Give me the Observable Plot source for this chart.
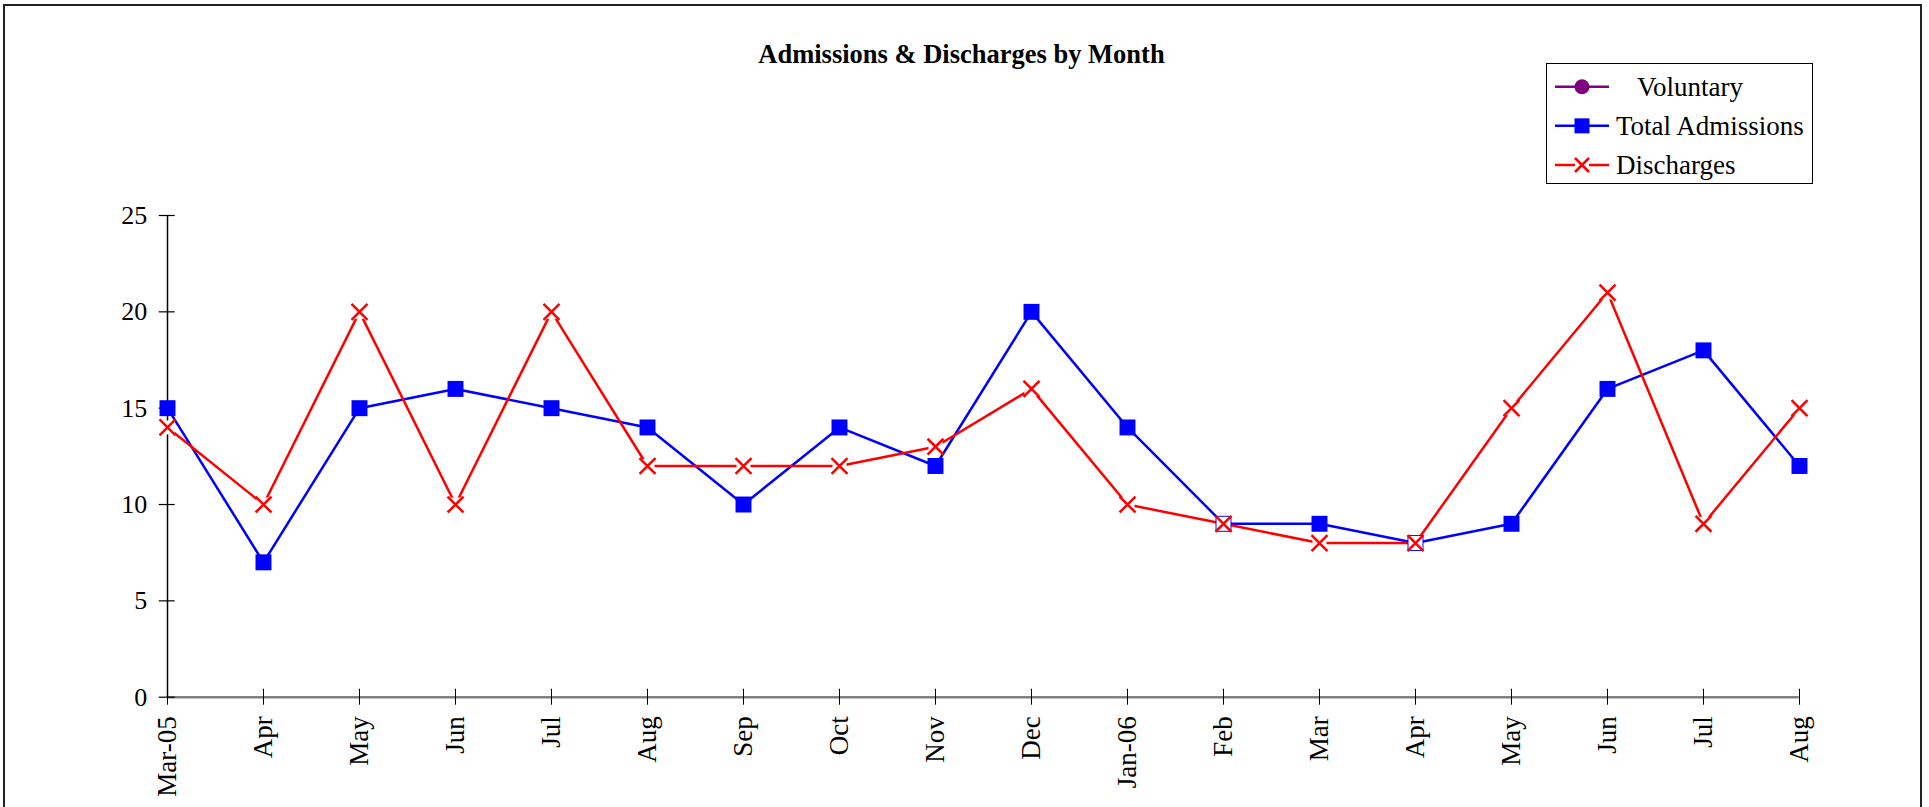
<!DOCTYPE html>
<html>
<head>
<meta charset="utf-8">
<script src="https://cdn.jsdelivr.net/npm/d3@7"></script>
<script src="https://cdn.jsdelivr.net/npm/@observablehq/plot@0.6"></script>
<style>
  html, body { margin: 0; padding: 0; background: #fff; }
  #wrap { position: relative; width: 1929px; height: 807px; overflow: hidden; background: #fff; }
  #wrap > svg { position: absolute; left: 0; top: 0; }
  #overlay { pointer-events: none; }
</style>
</head>
<body>
<div id="wrap"></div>
<script>
// ---- data ----
const months = ["Mar-05","Apr","May","Jun","Jul","Aug","Sep","Oct","Nov","Dec","Jan-06","Feb","Mar","Apr","May","Jun","Jul","Aug"];
const totalAdmissions = [15, 7, 15, 16, 15, 14, 10, 14, 12, 20, 14, 9, 9, 8, 9, 16, 18, 12];
const discharges = [14, 10, 20, 10, 20, 12, 12, 12, 13, 16, 10, 9, 8, 8, 15, 21, 9, 15];
const voluntary = []; // listed in legend, no plotted values
const yTicks = [0, 5, 10, 15, 20, 25];
const titleText = "Admissions & Discharges by Month";
const seriesNames = ["Voluntary", "Total Admissions", "Discharges"];

const idx = months.map((_, i) => i);
const admRows = totalAdmissions.map((v, i) => ({i, v}));
const disRows = discharges.map((v, i) => ({i, v}));
const volRows = voluntary.map((v, i) => ({i, v}));

const FONT = "'Liberation Serif', 'Times New Roman', serif";
const BLUE = "#0000ff", RED = "#ff0000", PURPLE = "#800080";

const chart = Plot.plot({
  width: 1929,
  height: 807,
  marginLeft: 166.7,
  marginRight: 130.3,
  marginTop: 215,
  marginBottom: 110.3,
  style: {fontFamily: FONT, background: "transparent", color: "#000", overflow: "visible"},
  x: {type: "point", domain: idx, padding: 0, label: null},
  y: {domain: [0, 25], label: null},
  marks: [
    Plot.ruleY([0], {stroke: "#808080", strokeWidth: 2.5}),
    Plot.ruleX([0], {stroke: "#000", strokeWidth: 1.5}),
    Plot.axisY({ticks: yTicks, tickSize: 16, dx: 8, tickPadding: 12, fontSize: 26, label: null, stroke: "#000", strokeWidth: 1.2}),
    Plot.axisX({ticks: idx, tickFormat: i => months[i], tickSize: 16, dy: -8, tickPadding: 11, tickRotate: -90, fontSize: 27, label: null, stroke: "#000", strokeWidth: 1}),
    Plot.line(volRows, {x: "i", y: "v", stroke: PURPLE, strokeWidth: 2.5}),
    Plot.line(admRows, {x: "i", y: "v", stroke: BLUE, strokeWidth: 2.5}),
    Plot.line(disRows, {x: "i", y: "v", stroke: RED, strokeWidth: 2.5}),
    Plot.dot(admRows, {x: "i", y: "v", symbol: "square", fill: BLUE, r: 9}),
    Plot.dot(disRows, {x: "i", y: "v", symbol: "square", fill: "#fff", r: 7.9}),
    Plot.dot(disRows, {x: "i", y: "v", symbol: "times", stroke: RED, strokeWidth: 2.5, r: 7.3})
  ]
});
document.getElementById("wrap").appendChild(chart);

// ---- overlay: outer frame, title, legend ----
const ov = d3.select("#wrap").append("svg")
  .attr("id", "overlay")
  .attr("width", 1929).attr("height", 807);

ov.append("rect")
  .attr("x", 4).attr("y", 5).attr("width", 1917).attr("height", 830)
  .attr("fill", "none").attr("stroke", "#222").attr("stroke-width", 2);

ov.append("text")
  .attr("x", 961.5).attr("y", 63)
  .attr("text-anchor", "middle")
  .attr("font-family", FONT).attr("font-size", 26.5).attr("font-weight", "bold")
  .attr("fill", "#000")
  .text(titleText);

const lg = ov.append("g");
lg.append("rect")
  .attr("x", 1546.5).attr("y", 63.5).attr("width", 266).attr("height", 120)
  .attr("fill", "#fff").attr("stroke", "#000").attr("stroke-width", 1);

const legendItems = [
  {name: seriesNames[0], color: PURPLE, marker: "circle", tx: 1637},
  {name: seriesNames[1], color: BLUE, marker: "square", tx: 1616},
  {name: seriesNames[2], color: RED, marker: "times", tx: 1616}
];
const rowY = d3.scalePoint().domain(seriesNames).range([86.7, 165]);
legendItems.forEach(it => {
  const y = rowY(it.name);
  lg.append("line").attr("x1", 1555).attr("x2", 1609).attr("y1", y).attr("y2", y)
    .attr("stroke", it.color).attr("stroke-width", 2.5);
  if (it.marker === "circle") {
    lg.append("circle").attr("cx", 1582).attr("cy", y).attr("r", 7.5).attr("fill", it.color);
  } else if (it.marker === "square") {
    lg.append("rect").attr("x", 1582 - 7.5).attr("y", y - 7.5).attr("width", 15).attr("height", 15).attr("fill", it.color);
  } else {
    lg.append("rect").attr("x", 1582 - 7).attr("y", y - 7).attr("width", 14).attr("height", 14).attr("fill", "#fff");
    lg.append("path").attr("d", `M${1582-7},${y-7}L${1582+7},${y+7}M${1582-7},${y+7}L${1582+7},${y-7}`)
      .attr("stroke", it.color).attr("stroke-width", 2.5);
  }
  lg.append("text").attr("x", it.tx).attr("y", y)
    .attr("dy", "0.35em")
    .attr("font-family", FONT).attr("font-size", 27).attr("fill", "#000")
    .text(it.name);
});
</script>
</body>
</html>
